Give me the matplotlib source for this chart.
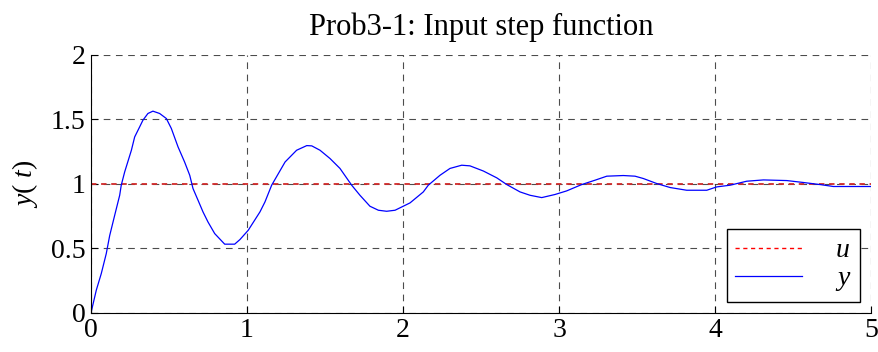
import matplotlib
matplotlib.use("Agg")
import matplotlib.pyplot as plt

# step input and response
t = [0.0, 0.034, 0.066, 0.098, 0.12, 0.152, 0.184, 0.194, 0.216, 0.259,
     0.28, 0.312, 0.333, 0.365, 0.397, 0.44, 0.483, 0.515, 0.558, 0.60,
     0.633, 0.654, 0.686, 0.718, 0.75, 0.793, 0.857, 0.921, 0.955, 1.008,
     1.083, 1.115, 1.158, 1.201, 1.244, 1.318, 1.383, 1.415, 1.468, 1.532,
     1.596, 1.671, 1.724, 1.788, 1.842, 1.895, 1.949, 1.981, 2.045, 2.13,
     2.162, 2.237, 2.301, 2.376, 2.429, 2.515, 2.601, 2.665, 2.75, 2.814,
     2.889, 2.974, 3.049, 3.145, 3.231, 3.306, 3.412, 3.487, 3.54, 3.626,
     3.712, 3.818, 3.947, 4.011, 4.096, 4.203, 4.31, 4.46, 4.566, 4.673,
     4.758, 5.0]
y = [0.0, 0.176, 0.305, 0.46, 0.60, 0.757, 0.912, 0.99, 1.093, 1.261,
     1.364, 1.442, 1.494, 1.546, 1.564, 1.546, 1.507, 1.43, 1.287, 1.17,
     1.067, 0.964, 0.874, 0.783, 0.705, 0.615, 0.533, 0.533, 0.569, 0.641,
     0.783, 0.86, 0.99, 1.08, 1.17, 1.261, 1.297, 1.295, 1.261, 1.197,
     1.12, 0.99, 0.912, 0.827, 0.796, 0.788, 0.796, 0.815, 0.853, 0.938,
     0.99, 1.067, 1.12, 1.145, 1.14, 1.10, 1.047, 0.995, 0.938, 0.912,
     0.894, 0.918, 0.946, 0.995, 1.029, 1.06, 1.065, 1.06, 1.042, 1.003,
     0.972, 0.951, 0.951, 0.977, 0.99, 1.021, 1.031, 1.026, 1.011, 0.995,
     0.98, 0.98]
t_u = [0, 5]
u = [1, 1]

plt.rcParams['font.family'] = ['Liberation Serif', 'DejaVu Serif']
plt.rcParams['mathtext.fontset'] = 'custom'
plt.rcParams['mathtext.rm'] = 'Liberation Serif'
plt.rcParams['mathtext.it'] = 'Liberation Serif:italic'

fig = plt.figure(figsize=(8.79, 3.52), dpi=100)
ax = fig.add_axes([0.1035, 0.111, 0.8875, 0.733])

ax.plot(t_u, u, '--', color='#d02a2a', lw=1.3, dashes=(3, 2.6), label='$u$')
ax.plot(t, y, 'b-', lw=0.9, label='$y$')

ax.set_xlim(0, 5)
ax.set_ylim(0, 2)
ax.set_xticks([0, 1, 2, 3, 4, 5])
ax.set_yticks([0, 0.5, 1, 1.5, 2])
ax.set_yticklabels(['0', '0.5', '1', '1.5', '2'])
ax.grid(True, color='k', ls=(0, (6, 5)), lw=0.8, alpha=0.7)
ax.spines['top'].set_visible(False)
ax.spines['right'].set_visible(False)
ax.tick_params(direction='in', labelsize=20, length=5, pad=4)

ax.set_title('Prob3-1: Input step function', fontsize=22, pad=14)
ax.set_ylabel('$y$( $t$)', fontsize=20, labelpad=8)

leg = ax.legend(loc='lower right', fontsize=20, fancybox=False, framealpha=1,
                edgecolor='k', handlelength=2.4, borderaxespad=0.4,
                labelspacing=0.1, borderpad=0.3, handletextpad=1.2)
leg.get_frame().set_linewidth(1.0)
leg.get_lines()[0].set_color('r')
leg.get_lines()[0].set_linewidth(1.0)

fig.savefig('out.png', dpi=100)
